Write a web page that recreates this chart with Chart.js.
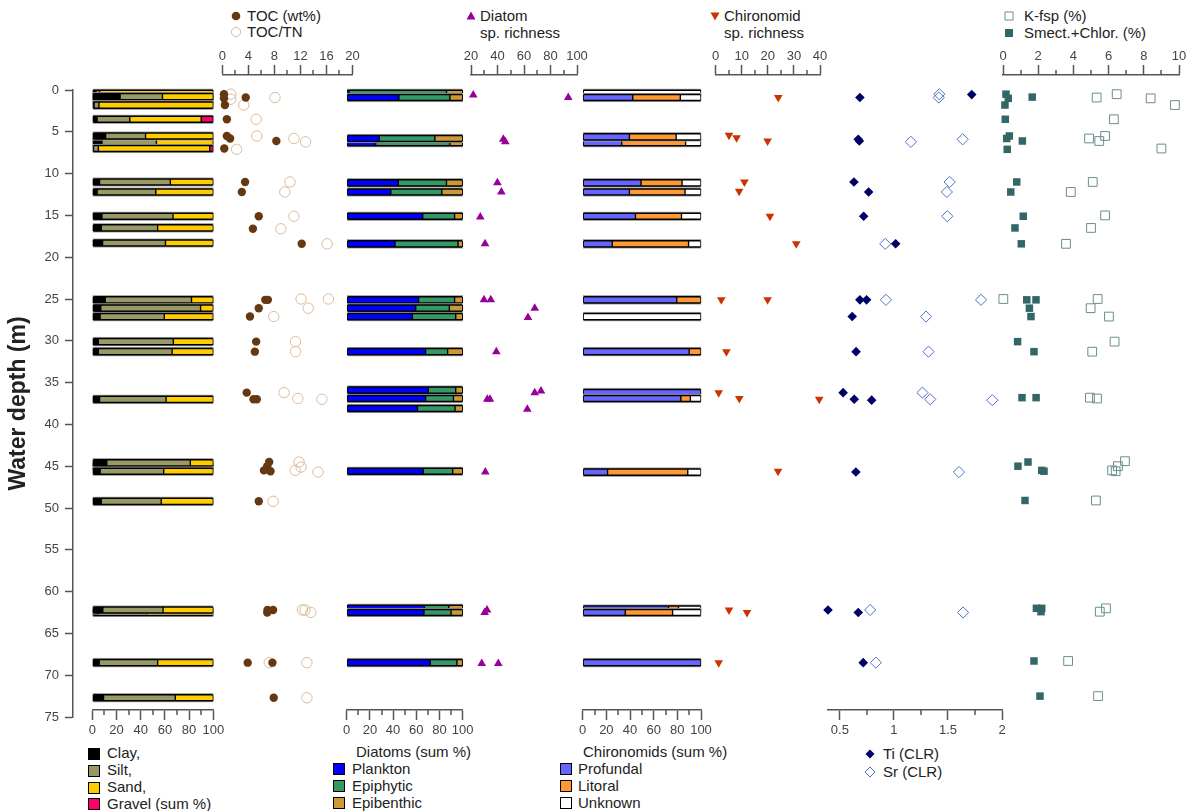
<!DOCTYPE html>
<html>
<head>
<meta charset="utf-8">
<title>Sediment, diatom, chironomid and geochemistry profiles by water depth</title>
<script src="https://cdn.jsdelivr.net/npm/chart.js@4.4.1/dist/chart.umd.min.js"></script>
<style>
  body { margin: 0; background: #fff; }
  #fig { position: relative; width: 1192px; height: 811px; overflow: hidden;
         font-family: "Liberation Sans", Arial, sans-serif; color: #222; }
  #fig canvas { position: absolute; left: 0; top: 0; }
  .lg { position: absolute; font-size: 15px; line-height: 18px; height: 18px; white-space: nowrap; }
  .mk { position: absolute; }
  .box { position: absolute; width: 10px; height: 10px; border: 1px solid #000; }
</style>
</head>
<body>
<div id="fig">
  <!-- panel legends above the plots -->
  <svg class="mk" style="left:230px;top:10px" width="12" height="12"><circle cx="6" cy="6" r="4.3" fill="#663811"/></svg>
  <div class="lg" style="left:247px;top:7px">TOC (wt%)</div>
  <svg class="mk" style="left:230px;top:26px" width="12" height="12"><circle cx="6" cy="6" r="4.6" fill="none" stroke="#dcbb9b" stroke-width="1"/></svg>
  <div class="lg" style="left:247px;top:23px">TOC/TN</div>

  <svg class="mk" style="left:465px;top:10px" width="12" height="12"><polygon points="6,1.5 10.5,9.5 1.5,9.5" fill="#990099"/></svg>
  <div class="lg" style="left:480px;top:7px">Diatom</div>
  <div class="lg" style="left:480px;top:24px">sp. richness</div>

  <svg class="mk" style="left:709px;top:10px" width="12" height="12"><polygon points="1.5,2.5 10.5,2.5 6,10.5" fill="#cc3300"/></svg>
  <div class="lg" style="left:724px;top:7px">Chironomid</div>
  <div class="lg" style="left:724px;top:24px">sp. richness</div>

  <svg class="mk" style="left:1003px;top:10px" width="12" height="12"><rect x="2" y="2" width="8" height="8" fill="#fff" stroke="#6a8d8d" stroke-width="1"/></svg>
  <div class="lg" style="left:1024px;top:7px">K-fsp (%)</div>
  <svg class="mk" style="left:1003px;top:27px" width="12" height="12"><rect x="2" y="2" width="8" height="8" fill="#336666"/></svg>
  <div class="lg" style="left:1024px;top:24px">Smect.+Chlor. (%)</div>

  <!-- legends below the plots -->
  <div class="box" style="left:88px;top:748px;background:#000"></div>
  <div class="lg" style="left:107px;top:744px">Clay,</div>
  <div class="box" style="left:88px;top:765px;background:#999966"></div>
  <div class="lg" style="left:107px;top:761px">Silt,</div>
  <div class="box" style="left:88px;top:782px;background:#ffcc00"></div>
  <div class="lg" style="left:107px;top:778px">Sand,</div>
  <div class="box" style="left:88px;top:798px;background:#ff0066"></div>
  <div class="lg" style="left:107px;top:795px">Gravel (sum %)</div>

  <div class="lg" style="left:356px;top:743px">Diatoms (sum %)</div>
  <div class="box" style="left:333px;top:763px;background:#0000ff"></div>
  <div class="lg" style="left:352px;top:760px">Plankton</div>
  <div class="box" style="left:333px;top:780px;background:#339966"></div>
  <div class="lg" style="left:352px;top:777px">Epiphytic</div>
  <div class="box" style="left:333px;top:797px;background:#cc9933"></div>
  <div class="lg" style="left:352px;top:794px">Epibenthic</div>

  <div class="lg" style="left:583px;top:743px">Chironomids (sum %)</div>
  <div class="box" style="left:560px;top:763px;background:#6666ff"></div>
  <div class="lg" style="left:578px;top:760px">Profundal</div>
  <div class="box" style="left:560px;top:780px;background:#ff9933"></div>
  <div class="lg" style="left:578px;top:777px">Litoral</div>
  <div class="box" style="left:560px;top:797px;background:#ffffff"></div>
  <div class="lg" style="left:578px;top:794px">Unknown</div>

  <svg class="mk" style="left:864px;top:748px" width="12" height="12"><polygon points="6,1.5 10.5,6 6,10.5 1.5,6" fill="#000066"/></svg>
  <div class="lg" style="left:883px;top:745px">Ti (CLR)</div>
  <svg class="mk" style="left:864px;top:766px" width="12" height="12"><polygon points="6,1 11,6 6,11 1,6" fill="none" stroke="#4a72c8" stroke-width="1"/></svg>
  <div class="lg" style="left:883px;top:763px">Sr (CLR)</div>
</div>

<script>
// ---------------- grain size (sum %), listed in drawing order ----------------
const grainDepth  = [0.4, 1.1, 0.8, 1.8, 3.5, 6.2, 5.5, 7.0, 11.0, 12.2, 15.1, 16.5, 18.3, 25.1, 26.1, 27.1, 30.1, 31.3, 37.0, 45.0, 44.6, 45.6, 49.2, 62.5, 62.2, 68.5, 72.7];
const grainClay   = [3, 5, 23, 1.5, 4, 8, 11, 1, 6, 4, 8, 7.4, 8.5, 10.7, 7, 6.5, 5, 5, 6, 7, 12, 6.5, 7.4, 5, 8.7, 5.7, 9.3];
const grainSilt   = [3, 17, 35, 4, 27, 45, 33, 4, 58.5, 48.5, 58.7, 46.6, 52, 71.3, 82.5, 53, 62, 61, 55, 49, 69, 52.5, 49.6, 40, 49.8, 48.3, 59.3];
const grainSand   = [94, 78, 42, 94.5, 59, 47, 56, 92, 35.5, 47.5, 33.3, 46, 39.5, 18, 10.5, 40.5, 33, 34, 39, 44, 19, 41, 43, 55, 41.5, 46, 31.4];
const grainGravel = [0, 0, 0, 0, 10, 0, 0, 3, 0, 0, 0, 0, 0, 0, 0, 0, 0, 0, 0, 0, 0, 0, 0, 0, 0, 0, 0];

// ---------------- diatom groups (sum %) ----------------
const diatomDepth      = [0.4, 0.9, 6.3, 5.8, 11.1, 12.2, 15.1, 18.4, 25.1, 26.1, 27.1, 31.3, 36.4, 35.9, 36.9, 38.1, 45.6, 62.0, 62.5, 68.5];
const diatomPlankton   = [2, 45, 25, 28, 44.5, 38, 65.5, 41.6, 62, 59.5, 56.6, 68, 70, 70.4, 68, 61, 66, 67, 66.6, 72];
const diatomEpiphytic  = [84, 44, 64, 48, 41.5, 44, 27.5, 54.4, 31, 29, 37.4, 19, 25, 23.6, 24, 32.4, 25.4, 21, 23.4, 23];
const diatomEpibenthic = [14, 11, 11, 24, 14, 18, 7, 4, 7, 11.5, 6, 13, 5, 6, 8, 6.6, 8.6, 12, 10, 5];

// ---------------- chironomid groups (sum %) ----------------
const chiroDepth     = [0.4, 0.9, 6.3, 5.6, 11.1, 12.2, 15.1, 18.4, 25.1, 27.1, 31.3, 36.2, 36.9, 45.7, 62.1, 62.5, 68.5];
const chiroProfundal = [0, 42.3, 33, 39.5, 49.3, 39.5, 44.6, 25, 79.5, 0, 90, 100, 83, 21, 72.5, 36, 100];
const chiroLitoral   = [0, 40.2, 54, 39.5, 34.7, 47, 38.9, 64.5, 20.5, 0, 10, 0, 8, 67.8, 8.5, 40, 0];
const chiroUnknown   = [100, 17.5, 13, 21, 16, 13.5, 16.5, 10.5, 0, 100, 0, 0, 9, 11.2, 19, 24, 0];

// ---------------- TOC (wt%) and TOC/TN ----------------
const tocDepth   = [0.5, 1.0, 0.9, 1.8, 3.5, 5.5, 5.8, 6.1, 7.0, 11.0, 12.2, 15.1, 16.6, 18.4, 25.1, 25.1, 26.1, 27.1, 30.1, 31.3, 36.2, 37.0, 37.0, 44.5, 45.0, 45.5, 45.6, 49.2, 62.2, 62.2, 62.5, 68.5, 68.5, 72.7];
const tocValue   = [0.26, 0.26, 3.6, 0.4, 0.7, 0.7, 1.2, 8.3, 0.3, 3.5, 3.0, 5.6, 4.7, 12.2, 6.6, 7.0, 5.6, 4.25, 5.2, 5.0, 3.75, 4.8, 5.3, 7.2, 6.9, 6.4, 7.4, 5.6, 6.95, 7.8, 6.9, 3.9, 7.7, 7.9];
const tocTnDepth = [0.5, 1.1, 0.9, 1.8, 3.5, 5.5, 5.8, 6.2, 7.1, 11.0, 12.2, 15.1, 16.6, 18.4, 25.0, 25.0, 26.1, 27.1, 30.1, 31.3, 36.2, 36.9, 37.0, 44.5, 45.1, 45.5, 45.7, 49.2, 62.2, 62.2, 62.5, 68.5, 68.5, 72.7];
const tocTnValue = [1.3, 1.3, 8.1, 3.3, 5.2, 5.3, 11.0, 12.8, 2.2, 10.4, 9.6, 11.0, 9.0, 16.1, 12.1, 16.3, 13.2, 7.9, 11.25, 11.25, 9.5, 11.6, 15.3, 11.8, 12.1, 11.2, 14.7, 7.8, 12.3, 12.7, 13.6, 7.2, 13.0, 13.0];

// ---------------- species richness ----------------
const diatomRichDepth = [0.6, 0.9, 5.9, 6.2, 11.1, 12.2, 15.2, 18.4, 25.1, 25.1, 26.1, 27.2, 31.3, 36.2, 36.0, 37.0, 37.0, 38.2, 45.7, 62.5, 62.2, 68.6, 68.6];
const diatomRichValue = [21.7, 93.4, 44.4, 45.9, 39.9, 42.9, 27, 30.6, 29.8, 34.9, 68.1, 63, 39.1, 68.1, 72.8, 32.3, 34.3, 62.5, 30.8, 30.3, 32.1, 28.1, 40.6];
const chiroRichDepth  = [0.9, 5.4, 5.7, 6.1, 11.0, 12.1, 15.1, 18.4, 25.1, 25.1, 31.3, 36.2, 36.9, 37.0, 45.6, 62.2, 62.5, 68.5];
const chiroRichValue  = [24.0, 5.1, 8.0, 19.9, 11.0, 9.0, 20.8, 30.9, 2.15, 19.9, 4.1, 1.15, 9.05, 39.7, 23.9, 5.1, 12.0, 1.15];

// ---------------- XRF centred log-ratios ----------------
const tiDepth = [0.9, 0.55, 5.9, 6.1, 11.0, 12.2, 15.1, 18.4, 25.1, 25.1, 27.1, 31.3, 36.2, 37.0, 37.1, 45.7, 62.2, 62.5, 68.5];
const tiValue = [0.685, 1.72, 0.67, 0.68, 0.63, 0.766, 0.72, 1.016, 0.685, 0.747, 0.614, 0.65, 0.53, 0.633, 0.794, 0.648, 0.39, 0.67, 0.716];
const srDepth = [0.5, 0.9, 6.2, 5.9, 11.0, 12.2, 15.1, 18.4, 25.1, 25.1, 27.1, 31.3, 36.2, 37.0, 37.1, 45.7, 62.2, 62.5, 68.5];
const srValue = [1.42, 1.415, 1.157, 1.636, 1.516, 1.49, 1.494, 0.92, 0.926, 1.806, 1.297, 1.32, 1.264, 1.336, 1.91, 1.602, 0.78, 1.64, 0.833];

// ---------------- clay minerals and feldspar (%) ----------------
const smectDepth = [0.5, 1.0, 1.8, 0.85, 3.5, 5.5, 5.8, 6.1, 7.1, 11.0, 12.2, 15.1, 16.5, 18.4, 25.1, 25.1, 26.1, 27.1, 30.1, 31.3, 36.8, 36.8, 44.5, 45.0, 45.5, 45.6, 49.1, 62.0, 62.0, 62.4, 68.3, 72.5];
const smectValue = [0.17, 0.3, 0.11, 1.66, 0.13, 0.36, 0.21, 1.1, 0.24, 0.78, 0.44, 1.15, 0.68, 1.04, 1.35, 1.875, 1.5, 1.59, 0.83, 1.76, 1.08, 1.88, 1.42, 0.85, 2.2, 2.33, 1.25, 1.9, 2.2, 2.16, 1.76, 2.1];
const kfspDepth  = [0.9, 0.5, 1.0, 1.8, 3.5, 5.8, 5.5, 6.1, 7.0, 11.0, 12.2, 15.0, 16.5, 18.4, 25.0, 25.0, 26.1, 27.1, 30.1, 31.3, 36.8, 36.9, 44.4, 45.0, 45.5, 45.6, 49.1, 62.0, 62.4, 68.3, 72.5];
const kfspValue  = [5.32, 6.46, 8.39, 9.77, 6.3, 4.89, 5.8, 5.47, 9.0, 5.1, 3.85, 5.8, 5.0, 3.58, 0.02, 5.38, 4.98, 6.02, 6.34, 5.07, 4.94, 5.34, 6.93, 6.53, 6.2, 6.4, 5.28, 5.85, 5.5, 3.7, 5.4];

// ---------------- tick labels ----------------
const depthTicks    = [0, 5, 10, 15, 20, 25, 30, 35, 40, 45, 50, 55, 60, 65, 70, 75];
const percentTicks  = [0, 20, 40, 60, 80, 100];
const tocTicks      = [0, 4, 8, 12, 16, 20];
const diatomRichTicks = [20, 40, 60, 80, 100];
const chiroRichTicks  = [0, 10, 20, 30, 40];
const clrTicks      = [0.5, 1, 1.5, 2];
const mineralTicks  = [0, 2, 4, 6, 8, 10];

// ---------------- layout ----------------
const W = 1192, H = 811;
const FONT = '"Liberation Sans", Arial, sans-serif';
const AXIS_COLOR = '#555';
const TICK_TEXT = '#444';
const DEPTH_ZERO_PX = 90;      // canvas y of 0 m
const DEPTH_PX_PER_M = 8.36;   // vertical scale shared by every panel
const AXIS_BOX = 30;

const fig = document.getElementById('fig');
function makeCanvas() {
  const c = document.createElement('canvas');
  c.width = W; c.height = H;
  fig.appendChild(c);
  return c;
}

const midpoints = t => t.slice(1).map((v, i) => (v + t[i]) / 2);

// short unlabeled ticks halfway between the labelled ones
const minorTickPlugin = {
  id: 'minorTicks',
  afterDraw(chart, args, opts) {
    const s = chart.scales.x;
    if (!s || !opts || !opts.values) return;
    const ctx = chart.ctx;
    const atTop = s.position === 'top';
    const y0 = atTop ? s.bottom : s.top;
    const dir = atTop ? -1 : 1;
    ctx.save();
    ctx.strokeStyle = AXIS_COLOR;
    ctx.lineWidth = 1.5;
    opts.values.forEach(v => {
      const x = Math.round(s.getPixelForValue(v));
      ctx.beginPath();
      ctx.moveTo(x, y0);
      ctx.lineTo(x, y0 + dir * 5);
      ctx.stroke();
    });
    ctx.restore();
  }
};

function depthScale(top, bottom) {
  return {
    type: 'linear', reverse: true, offset: false, display: false,
    min: (top - DEPTH_ZERO_PX) / DEPTH_PX_PER_M,
    max: (bottom - DEPTH_ZERO_PX) / DEPTH_PX_PER_M
  };
}

function valueAxis(position, min, max, majors) {
  return {
    type: 'linear', position, min, max, offset: false,
    afterBuildTicks(s) { s.ticks = majors.map(v => ({ value: v })); },
    afterFit(s) { s.height = AXIS_BOX; },
    ticks: {
      color: TICK_TEXT, font: { family: FONT, size: 13 },
      padding: position === 'top' ? 1 : 3,
      maxRotation: 0, autoSkip: false, callback: v => String(v)
    },
    grid: { drawOnChartArea: false, drawTicks: true, tickLength: 10, tickColor: AXIS_COLOR, tickWidth: 1.5 },
    border: { display: true, color: AXIS_COLOR, width: 1.5 }
  };
}

function panel(type, area, xAxis, datasets, minor) {
  const atTop = xAxis.position === 'top';
  const padding = {
    left: area.left, right: W - area.right,
    top: atTop ? area.top - AXIS_BOX : area.top,
    bottom: atTop ? H - area.bottom : H - area.bottom - AXIS_BOX
  };
  const options = {
    responsive: false, animation: false, devicePixelRatio: 1, events: [],
    layout: { padding },
    scales: { x: xAxis, y: depthScale(area.top, area.bottom) },
    plugins: { legend: { display: false }, tooltip: { enabled: false }, minorTicks: { values: minor } }
  };
  if (type === 'bar') options.indexAxis = 'y';
  return new Chart(makeCanvas(), { type, data: { datasets }, options, plugins: [minorTickPlugin] });
}

// one framed horizontal bar per sample, later samples drawn over earlier ones
function sampleBars(depths, parts, colors) {
  const sets = [];
  depths.forEach((d, i) => {
    sets.push({
      data: [{ x: [0, 100], y: d }],
      backgroundColor: '#000', borderColor: '#a9a9a9', borderWidth: 1, borderSkipped: false,
      barThickness: 9, grouped: false, clip: false, order: -(2 * i)
    });
    let acc = 0;
    const data = [], bg = [];
    parts.forEach((arr, j) => {
      const v = arr[i];
      if (v > 0) { data.push({ x: [acc, acc + v], y: d }); bg.push(colors[j]); }
      acc += v;
    });
    sets.push({
      data, backgroundColor: bg, borderColor: '#000', borderWidth: 1, borderSkipped: false,
      barThickness: 6, grouped: false, clip: false, order: -(2 * i + 1)
    });
  });
  return sets;
}

function points(depths, values) { return depths.map((d, i) => ({ x: values[i], y: d })); }

function markers(depths, values, style) {
  return Object.assign({ data: points(depths, values), clip: false, showLine: false }, style);
}

// ---- depth axis ----
new Chart(makeCanvas(), {
  type: 'scatter',
  data: { datasets: [{ data: [] }] },
  options: {
    responsive: false, animation: false, devicePixelRatio: 1, events: [],
    layout: { padding: { left: 0, right: W - 80, top: 90, bottom: H - 717 } },
    scales: {
      x: { display: false, min: 0, max: 1 },
      y: {
        type: 'linear', position: 'left', reverse: true, min: 0, max: 75, offset: false,
        afterBuildTicks(s) { s.ticks = depthTicks.map(v => ({ value: v })); },
        afterFit(s) { s.width = 73; },
        ticks: { color: TICK_TEXT, font: { family: FONT, size: 13 }, padding: 6, autoSkip: false, callback: v => String(v) },
        grid: { drawOnChartArea: false, drawTicks: true, tickLength: 8, tickColor: AXIS_COLOR, tickWidth: 1.5 },
        border: { display: true, color: AXIS_COLOR, width: 1.5 },
        title: { display: true, text: 'Water depth (m)', color: '#222',
                 font: { family: FONT, size: 23, weight: 'bold' }, padding: { top: 5, bottom: 0 } }
      }
    },
    plugins: { legend: { display: false }, tooltip: { enabled: false } }
  }
});

// ---- grain size ----
panel('bar', { left: 92.3, right: 213.3, top: 85, bottom: 710 },
  valueAxis('bottom', 0, 100, percentTicks),
  sampleBars(grainDepth, [grainClay, grainSilt, grainSand, grainGravel], ['#000000', '#999966', '#ffcc00', '#ff0066']),
  midpoints(percentTicks));

// ---- TOC ----
panel('scatter', { left: 222.3, right: 352.5, top: 75, bottom: 717 },
  valueAxis('top', 0, 20, tocTicks),
  [
    markers(tocDepth, tocValue, { pointStyle: 'circle', pointRadius: 4.2, pointBackgroundColor: '#663811', pointBorderColor: '#663811', pointBorderWidth: 0 }),
    markers(tocTnDepth, tocTnValue, { pointStyle: 'circle', pointRadius: 5.2, pointBackgroundColor: 'rgba(0,0,0,0)', pointBorderColor: '#dcbb9b', pointBorderWidth: 1 })
  ],
  midpoints(tocTicks));

// ---- diatom groups ----
panel('bar', { left: 346.7, right: 462.7, top: 85, bottom: 710 },
  valueAxis('bottom', 0, 100, percentTicks),
  sampleBars(diatomDepth, [diatomPlankton, diatomEpiphytic, diatomEpibenthic], ['#0000ff', '#339966', '#cc9933']),
  midpoints(percentTicks));

// ---- diatom species richness ----
panel('scatter', { left: 471, right: 577, top: 75, bottom: 717 },
  valueAxis('top', 20, 100, diatomRichTicks),
  [markers(diatomRichDepth, diatomRichValue, { pointStyle: 'triangle', pointRadius: 5, pointBackgroundColor: '#990099', pointBorderColor: '#990099', pointBorderWidth: 0 })],
  midpoints(diatomRichTicks));

// ---- chironomid groups ----
panel('bar', { left: 582.7, right: 701, top: 85, bottom: 710 },
  valueAxis('bottom', 0, 100, percentTicks),
  sampleBars(chiroDepth, [chiroProfundal, chiroLitoral, chiroUnknown], ['#6666ff', '#ff9933', '#ffffff']),
  midpoints(percentTicks));

// ---- chironomid species richness ----
panel('scatter', { left: 715.7, right: 820, top: 75, bottom: 717 },
  valueAxis('top', 0, 40, chiroRichTicks),
  [markers(chiroRichDepth, chiroRichValue, { pointStyle: 'triangle', pointRotation: 180, pointRadius: 5, pointBackgroundColor: '#cc3300', pointBorderColor: '#cc3300', pointBorderWidth: 0 })],
  midpoints(chiroRichTicks));

// ---- Ti and Sr ----
panel('scatter', { left: 828, right: 1002, top: 85, bottom: 710 },
  valueAxis('bottom', 0.39, 2, clrTicks),
  [
    markers(tiDepth, tiValue, { pointStyle: 'rectRot', pointRadius: 4.8, pointBackgroundColor: '#000066', pointBorderColor: '#000066', pointBorderWidth: 0 }),
    markers(srDepth, srValue, { pointStyle: 'rectRot', pointRadius: 5.6, pointBackgroundColor: 'rgba(0,0,0,0)', pointBorderColor: '#4a72c8', pointBorderWidth: 1 })
  ],
  midpoints(clrTicks));

// ---- K-feldspar and smectite + chlorite ----
panel('scatter', { left: 1003, right: 1179, top: 75, bottom: 717 },
  valueAxis('top', 0, 10, mineralTicks),
  [
    markers(smectDepth, smectValue, { pointStyle: 'rect', pointRadius: 5.3, pointBackgroundColor: '#336666', pointBorderColor: '#336666', pointBorderWidth: 0 }),
    markers(kfspDepth, kfspValue, { pointStyle: 'rect', pointRadius: 6.2, pointBackgroundColor: 'rgba(0,0,0,0)', pointBorderColor: '#6a8d8d', pointBorderWidth: 1 })
  ],
  midpoints(mineralTicks));
</script>
</body>
</html>
